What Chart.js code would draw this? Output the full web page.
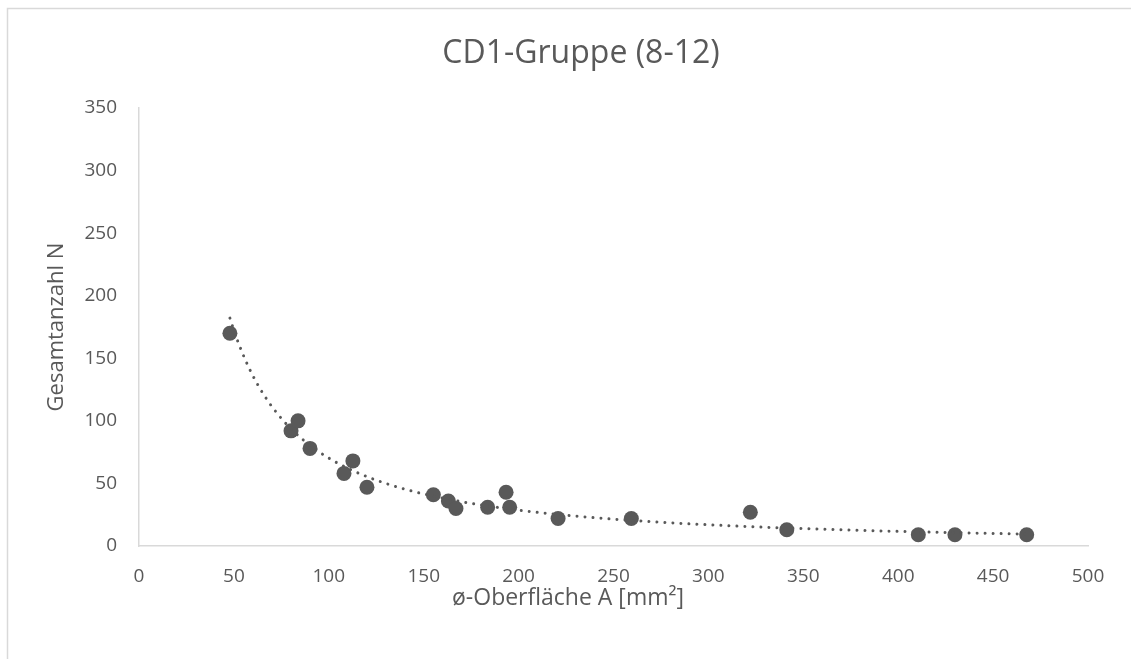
<!DOCTYPE html>
<html>
<head>
<meta charset="utf-8">
<title>CD1-Gruppe (8-12)</title>
<script src="https://cdn.jsdelivr.net/npm/chart.js"></script>
<style>
  html, body { margin: 0; padding: 0; background: #fff; }
  #wrap { width: 1131px; height: 659px; }
</style>
</head>
<body>
<div id="wrap"><canvas id="myChart" width="1131" height="659"></canvas></div>
<script>
// values
const surfaceA = [47.9, 80.1, 83.8, 90.1, 108.0, 112.7, 120.1, 155.1, 163.0, 167.0,
                  183.7, 193.4, 195.3, 220.8, 259.4, 322.1, 341.3, 410.6, 429.9, 467.7];
const countN   = [170, 92, 100, 78, 58, 68, 47, 41, 36, 30,
                  31, 43, 31, 22, 22, 27, 13, 9, 9, 9];
const xTicks = [0, 50, 100, 150, 200, 250, 300, 350, 400, 450, 500];
const yTicks = [0, 50, 100, 150, 200, 250, 300, 350];

const chartTitle = "CD1-Gruppe (8-12)";
const xTitle = "ø-Oberfläche A [mm²]";
const yTitle = "Gesamtanzahl N";

const textColor = "#595959";
const axisColor = "#d9d9d9";
const fontFamily = "'Open Sans', 'Noto Sans', sans-serif";

// power trendline (least squares on ln x / ln y, like the spreadsheet does)
function powerFit(xs, ys) {
  let sx = 0, sy = 0, sxx = 0, sxy = 0;
  const n = xs.length;
  for (let i = 0; i < n; i++) {
    const lx = Math.log(xs[i]), ly = Math.log(ys[i]);
    sx += lx; sy += ly; sxx += lx * lx; sxy += lx * ly;
  }
  const b = (n * sxy - sx * sy) / (n * sxx - sx * sx);
  const a = Math.exp((sy - b * sx) / n);
  return { a, b };
}
const fit = powerFit(surfaceA, countN);
const xMin = Math.min(...surfaceA), xMax = Math.max(...surfaceA);
const trend = [];
for (let i = 0; i <= 200; i++) {
  const x = xMin + (xMax - xMin) * i / 200;
  trend.push({ x: x, y: fit.a * Math.pow(x, fit.b) });
}

// frame + the two titles that sit off-centre of the plot area (as in the original)
const frameAndTitles = {
  id: "frameAndTitles",
  beforeDraw(chart) {
    const ctx = chart.ctx;
    ctx.save();
    ctx.fillStyle = "#fff";
    ctx.fillRect(0, 0, chart.width, chart.height);
    ctx.strokeStyle = axisColor;
    ctx.lineWidth = 1.5;
    ctx.strokeRect(7.5, 8.5, chart.width + 20, chart.height + 20);
    ctx.restore();
  },
  afterDraw(chart) {
    const ctx = chart.ctx;
    ctx.save();
    ctx.fillStyle = textColor;
    ctx.textAlign = "center";
    ctx.textBaseline = "middle";
    ctx.font = "32px " + fontFamily;
    ctx.fillText(chartTitle, 581, 54);
    ctx.font = "23px " + fontFamily;
    ctx.fillText(xTitle, 568, 598);
    ctx.restore();
  }
};

new Chart(document.getElementById("myChart").getContext("2d"), {
  type: "scatter",
  data: {
    datasets: [
      {
        label: "Trend",
        type: "line",
        data: trend,
        borderColor: textColor,
        borderWidth: 3,
        borderDash: [0.01, 8],
        borderCapStyle: "round",
        pointRadius: 0,
        fill: false,
        tension: 0,
        order: 0
      },
      {
        label: "CD1-Gruppe",
        data: surfaceA.map((x, i) => ({ x: x, y: countN[i] })),
        backgroundColor: textColor,
        borderWidth: 0,
        pointRadius: 7.5,
        pointHoverRadius: 7.5,
        order: 1
      }
    ]
  },
  options: {
    responsive: false,
    animation: false,
    events: [],
    layout: { padding: { left: 8, right: 43, top: 108, bottom: 0 } },
    plugins: {
      legend: { display: false },
      tooltip: { enabled: false },
      title: { display: false }
    },
    scales: {
      x: {
        type: "linear",
        min: 0, max: 500,
        afterBuildTicks: (s) => { s.ticks = xTicks.map(v => ({ value: v })); },
        afterFit: (s) => { s.height = 113; },
        grid: { display: false, drawTicks: false },
        border: { color: axisColor, width: 1.5 },
        ticks: { color: textColor, padding: 19, font: { family: fontFamily, size: 19 } }
      },
      y: {
        type: "linear",
        min: 0, max: 350,
        afterBuildTicks: (s) => { s.ticks = yTicks.map(v => ({ value: v })); },
        afterFit: (s) => { s.width = 131; },
        grid: { display: false, drawTicks: false },
        border: { color: axisColor, width: 1.5 },
        ticks: { color: textColor, padding: 22, font: { family: fontFamily, size: 19 } },
        title: {
          display: true,
          text: yTitle,
          color: textColor,
          font: { family: fontFamily, size: 22 },
          padding: { top: 36, bottom: 0 }
        }
      }
    }
  },
  plugins: [frameAndTitles]
});
</script>
</body>
</html>
